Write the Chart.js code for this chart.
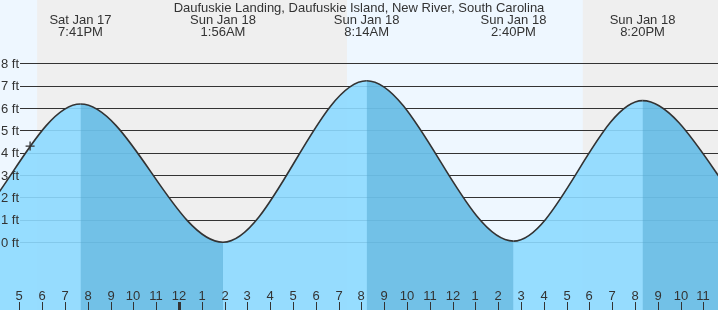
<!DOCTYPE html>
<html>
<head>
<meta charset="utf-8">
<title>Daufuskie Landing tide chart</title>
<script src="https://cdn.jsdelivr.net/npm/chart.js@4.4.1/dist/chart.umd.min.js"></script>
<style>
  html, body { margin: 0; padding: 0; background: #fff; }
  canvas { display: block; }
</style>
</head>
<body>
<canvas id="tideChart" width="718" height="310"></canvas>
<script>
// all times are hours counted from Sat Jan 17, 00:00
const stationName = "Daufuskie Landing, Daufuskie Island, New River, South Carolina";

// high / low tides (the outer ones lie outside the view and only shape the curve)
const tideHours = [7.42, 13.67, 19.68, 25.93, 32.23, 38.67, 44.33, 50.73, 57.0];
const tideFeet  = [7.0, 0.0, 6.18, 0.0, 7.22, 0.05, 6.33, 0.0, 7.0];
const tideDays  = ["", "", "Sat Jan 17", "Sun Jan 18", "Sun Jan 18", "Sun Jan 18", "Sun Jan 18", "", ""];
const tideTimes = ["", "", "7:41PM", "1:56AM", "8:14AM", "2:40PM", "8:20PM", "", ""];

// current level marker
const nowHours = [17.47];
const nowFeet  = [4.3];

// sunset -> sunrise
const nightHours = [[17.78, 31.37], [41.71, 55]];

const footTicks = [0, 1, 2, 3, 4, 5, 6, 7, 8];

const viewStart = 16.15, viewEnd = 47.64;
const feetMin = -3.03, feetMax = 10.83;

const textColor = "#333";
const waterFill = "rgba(140,217,255,0.9)";
const fallingShade = "rgba(78,165,207,0.5)";

function hourLabel(h) {
    const hh = ((h % 24) + 24) % 24;
    return String(hh % 12 || 12);
}

const tidePoints = () => tideHours.map((t, i) => ({ x: t, y: tideFeet[i] }));

// background bands, grid lines, labels and hour ticks
const tidePainter = {
    id: "tidePainter",
    beforeDatasetsDraw(chart) {
        const { ctx, chartArea: a, scales: { x, y } } = chart;
        ctx.save();
        ctx.fillStyle = "#eef7ff";
        ctx.fillRect(a.left, a.top, a.width, a.height);
        ctx.fillStyle = "#efefef";
        nightHours.forEach(([s, e]) => {
            const x0 = Math.max(a.left, x.getPixelForValue(s));
            const x1 = Math.min(a.right, x.getPixelForValue(e));
            if (x1 > x0) ctx.fillRect(x0, a.top, x1 - x0, a.height);
        });
        ctx.strokeStyle = textColor;
        ctx.lineWidth = 1;
        footTicks.forEach(v => {
            const py = Math.round(y.getPixelForValue(v)) + 0.5;
            ctx.beginPath();
            ctx.moveTo(20, py);
            ctx.lineTo(a.right, py);
            ctx.stroke();
        });
        ctx.restore();
    },
    afterDatasetsDraw(chart) {
        const { ctx, chartArea: a, scales: { x, y } } = chart;
        ctx.save();
        ctx.fillStyle = textColor;

        // y labels
        ctx.font = "13px 'Liberation Sans', Arial, sans-serif";
        ctx.textAlign = "right";
        ctx.textBaseline = "middle";
        footTicks.forEach(v => {
            ctx.fillText(v + " ft", 19, y.getPixelForValue(v) + 1);
        });

        // hour ticks along the bottom
        ctx.textAlign = "center";
        ctx.textBaseline = "alphabetic";
        for (let h = Math.ceil(viewStart); h <= Math.floor(viewEnd); h++) {
            const px = Math.round(x.getPixelForValue(h));
            ctx.fillText(hourLabel(h), px, 300);
            if (h % 24 === 0) {
                ctx.fillRect(px - 1, 302, 3, a.bottom - 302);
            } else {
                ctx.fillRect(px, 302, 1, a.bottom - 302);
            }
        }

        // title and tide labels
        ctx.fillText(stationName, (a.left + a.right) / 2, 12);
        tideHours.forEach((t, i) => {
            if (!tideTimes[i]) return;
            const px = x.getPixelForValue(t);
            ctx.fillText(tideDays[i], px, 24);
            ctx.fillText(tideTimes[i], px, 36);
        });
        ctx.restore();
    }
};

new Chart(document.getElementById("tideChart"), {
    type: "line",
    data: {
        datasets: [
            {
                label: "now",
                data: nowHours.map((t, i) => ({ x: t, y: nowFeet[i] })),
                showLine: false,
                pointStyle: "cross",
                pointRadius: 4.5,
                pointBorderColor: textColor,
                pointBorderWidth: 1.3,
                fill: false
            },
            {
                // darker shade on the falling tide, plus the curve itself
                label: "tide",
                data: tidePoints(),
                borderColor: textColor,
                borderWidth: 1.6,
                pointRadius: 0,
                cubicInterpolationMode: "monotone",
                fill: "start",
                backgroundColor: "rgba(0,0,0,0)",
                segment: {
                    backgroundColor: c => c.p1.parsed.y < c.p0.parsed.y ? fallingShade : "rgba(0,0,0,0)"
                }
            },
            {
                label: "water",
                data: tidePoints(),
                borderWidth: 0,
                pointRadius: 0,
                cubicInterpolationMode: "monotone",
                fill: "start",
                backgroundColor: waterFill
            }
        ]
    },
    options: {
        responsive: false,
        animation: false,
        layout: { padding: 0, autoPadding: false },
        plugins: { legend: { display: false }, tooltip: { enabled: false }, title: { display: false } },
        scales: {
            x: { type: "linear", min: viewStart, max: viewEnd, display: false },
            y: { min: feetMin, max: feetMax, display: false }
        }
    },
    plugins: [tidePainter]
});
</script>
</body>
</html>
